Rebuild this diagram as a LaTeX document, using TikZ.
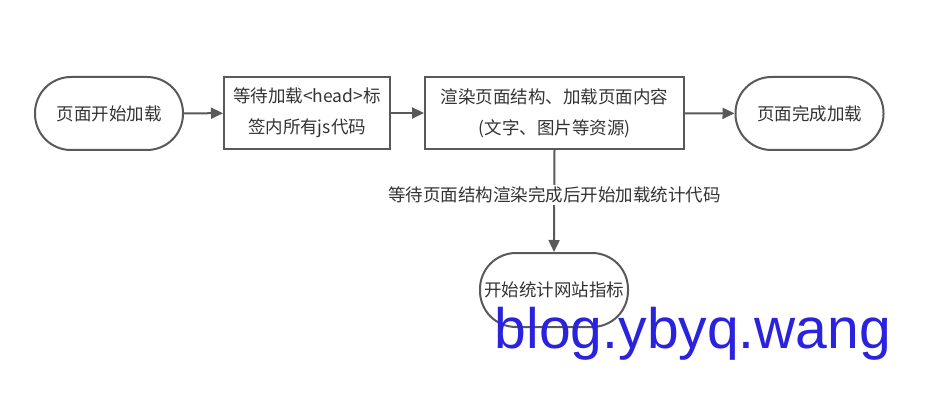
\documentclass[tikz,border=0pt]{standalone}
\usepackage{fontspec}
\setmainfont{Noto Sans CJK SC}
\newfontfamily\wmfont{Liberation Sans}
\usetikzlibrary{arrows.meta}
\definecolor{edgec}{HTML}{595959}
\definecolor{textc}{HTML}{333333}
\definecolor{wmblue}{HTML}{2B22DD}
\begin{document}
\begin{tikzpicture}[x=1pt,y=-1pt,
  base/.style={draw=edgec, line width=2pt, text=textc, font=\fontsize{17.5}{31}\selectfont, align=center, inner sep=0pt},
  term/.style={base, minimum width=148pt, minimum height=73pt, rounded corners=36pt},
  procbox/.style={base, minimum height=72pt},
  conn/.style={draw=edgec, line width=2pt, -{Triangle[length=12pt,width=11pt]}},
  lbl/.style={fill=white, text=textc, font=\fontsize{17.5}{22}\selectfont, inner sep=2pt}
]
\useasboundingbox (0,0) rectangle (938,409);
\node[term] (start) at (109,113.5) {页面开始加载};
\node[procbox, minimum width=166pt] (wait) at (307,113) {等待加载<head>标\\签内所有js代码};
\node[procbox, minimum width=259pt] (render) at (554.5,113) {渲染页面结构、加载页面内容\\(文字、图片等资源)};
\node[term] (done) at (809.5,113.5) {页面完成加载};
\node[term, minimum height=74pt] (stat) at (554,290) {开始统计网站指标};
\draw[conn] (start) -- (wait);
\draw[conn] (wait) -- (render);
\draw[conn] (render) -- (done);
\draw[conn] (render.south) -- node[lbl, pos=0.44] (lab) {等待页面结构渲染完成后开始加载统计代码} (stat.north);
\node[text=wmblue, font=\wmfont\fontsize{57}{60}\selectfont, anchor=base, inner sep=0pt] (wm) at (693,348) {blog.ybyq.wang};
\end{tikzpicture}
\end{document}
